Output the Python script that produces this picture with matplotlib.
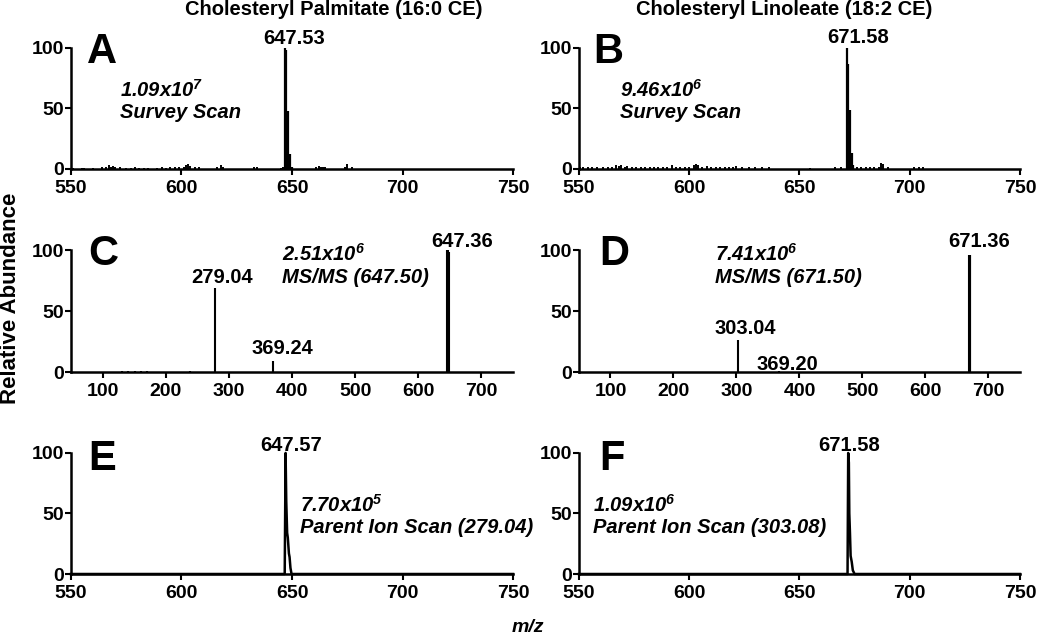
import matplotlib
# file output only
matplotlib.use("Agg")
import matplotlib.pyplot as plt

plt.rcParams["font.family"] = ["Liberation Sans", "DejaVu Sans"]
plt.rcParams["font.weight"] = "bold"
plt.rcParams["mathtext.default"] = "regular"

# ---- spectra: m/z and relative abundance (%) ----
# A: survey scan, cholesteryl palmitate
a_peak_mz = [646.9, 647.4, 648.1, 649.1, 650.0]
a_peak_int = [100, 98, 48, 12, 2]
a_noise_mz = [551, 555, 556, 560, 564, 566, 567, 568, 569, 570, 572, 575, 577, 579, 581,
              583, 585, 589, 591, 593, 595, 597, 599, 601, 602, 603, 604, 606, 608, 616,
              618, 619, 633, 634, 645, 646, 661, 662, 663, 664, 665, 674, 675, 677]
a_noise_int = [1, 1, 1, 1, 1.5, 2, 3, 2, 2.5, 2, 1.5, 1, 1, 1.5, 1,
               1, 1, 1, 1.5, 1, 1.5, 1.5, 2, 1.5, 3, 4, 2.5, 2, 1.5, 2,
               3.5, 2, 1.5, 1.5, 1, 2, 2, 2.5, 2, 2, 1.5, 1.5, 4, 1.5]

# B: survey scan, cholesteryl linoleate
b_peak_mz = [671.6, 672.1, 672.9, 673.7, 674.5]
b_peak_int = [100, 87, 49, 13, 3]
b_noise_mz = [550.5, 552, 554, 556, 558, 561, 563, 565, 567, 568, 569, 571, 572, 574, 576,
              578, 580, 582, 584, 586, 588, 590, 592, 594, 596, 598, 600, 602, 603, 604,
              606, 608, 610, 612, 614, 616, 618, 620, 621, 624, 627, 630, 633, 636, 655,
              666, 669, 676, 678, 680, 682, 684, 686, 687, 688, 690, 702, 704, 706]
b_noise_int = [2, 2, 1.5, 2, 1.5, 1.5, 2, 2, 3, 2.5, 3, 2, 2.5, 2, 1.5,
               2, 1.5, 2, 1.5, 1.5, 2, 1.5, 3, 2, 1.5, 1.5, 2, 3, 4, 3,
               2, 2.5, 1.5, 2, 1.5, 1.5, 1.5, 2, 2.5, 1.5, 1.5, 1.5, 1.5, 1.5, 1,
               1.5, 2, 2, 1.5, 1.5, 1.5, 1.5, 2, 5, 4, 2, 1.5, 1.5, 1.5]

# C / D: product ion (MS/MS) spectra
c_mz = [131, 141, 151, 161, 171, 239, 278.6, 370, 646.0, 647.4, 648.8]
c_int = [1, 1, 1, 1, 1, 1, 69, 9, 100, 100, 98]
d_mz = [301.7, 367.7, 669.5, 670.2, 670.9]
d_int = [26, 1, 96, 96, 96]

# E / F: parent ion scans (profile traces)
e_mz = [550, 646.7, 647.1, 647.4, 647.8, 648.1, 648.6, 648.9, 649.3, 649.8, 750]
e_int = [0, 0, 100, 60, 34, 30, 17, 14, 5, 0, 0]
f_mz = [550, 671.8, 672.1, 672.4, 672.6, 672.9, 673.2, 673.7, 674.2, 675.0, 750]
f_int = [0, 0, 100, 92, 50, 34, 15, 10, 3, 0, 0]

# peak labels: text, m/z and height of the labelled line
a_labels = [("647.53", 646.9, 100)]
b_labels = [("671.58", 671.6, 100)]
c_labels = [("647.36", 647.4, 100), ("279.04", 278.6, 69), ("369.24", 370, 9)]
d_labels = [("671.36", 670.2, 96), ("303.04", 301.7, 26), ("369.20", 367.7, 1)]
e_labels = [("647.57", 647.1, 100)]
f_labels = [("671.58", 672.1, 100)]

# intensity / scan-type notes
a_note = ("1.09x10$^{7}$", "Survey Scan")
b_note = ("9.46x10$^{6}$", "Survey Scan")
c_note = ("2.51x10$^{6}$", "MS/MS (647.50)")
d_note = ("7.41x10$^{6}$", "MS/MS (671.50)")
e_note = ("7.70x10$^{5}$", "Parent Ion Scan (279.04)")
f_note = ("1.09x10$^{6}$", "Parent Ion Scan (303.08)")

survey_ticks = [550, 600, 650, 700, 750]
msms_ticks = [100, 200, 300, 400, 500, 600, 700]


def style_axis(ax, xlim, xticks):
    ax.set_xlim(*xlim)
    ax.set_ylim(0, 100)
    ax.set_xticks(xticks)
    ax.set_yticks([0, 50, 100])
    for side in ("top", "right"):
        ax.spines[side].set_visible(False)
    for side in ("left", "bottom"):
        ax.spines[side].set_linewidth(1.8)
    ax.tick_params(axis="both", direction="out", length=4, width=1.5, labelsize=14)
    ax.tick_params(axis="x", pad=4)
    ax.tick_params(axis="y", pad=1)


def add_labels(ax, labels, offsets):
    for (text, mz, height), (dx, dy) in zip(labels, offsets):
        ax.annotate(text, xy=(mz, height), xytext=(dx, dy), textcoords="offset pixels",
                    ha="center", va="baseline", fontsize=14.5, annotation_clip=False)


def add_note(ax, note, x, y1, y2):
    ax.text(x, y1, note[0], transform=ax.transAxes, fontsize=14.5, style="italic", va="baseline")
    ax.text(x, y2, note[1], transform=ax.transAxes, fontsize=14.5, style="italic", va="baseline")


def add_letter(ax, letter, x, y):
    ax.text(x, y, letter, transform=ax.transAxes, fontsize=30, va="baseline")


fig = plt.figure(figsize=(10.5, 6.37), dpi=100)
left_x, right_x, width = 0.0676, 0.5514, 0.421
ax_a = fig.add_axes([left_x, 0.7347, width, 0.19])
ax_b = fig.add_axes([right_x, 0.7347, 0.42, 0.19])
ax_c = fig.add_axes([left_x, 0.416, width, 0.1915])
ax_d = fig.add_axes([right_x, 0.416, 0.42, 0.1915])
ax_e = fig.add_axes([left_x, 0.0989, width, 0.19])
ax_f = fig.add_axes([right_x, 0.0989, 0.42, 0.19])

# survey scans
for ax, pmz, pint, nmz, nint in [(ax_a, a_peak_mz, a_peak_int, a_noise_mz, a_noise_int),
                                  (ax_b, b_peak_mz, b_peak_int, b_noise_mz, b_noise_int)]:
    ax.vlines(nmz, 0, nint, colors="black", linewidth=1.4)
    ax.vlines(pmz, 0, pint, colors="black", linewidth=1.6, clip_on=False)
    style_axis(ax, (550, 750), survey_ticks)

# MS/MS
for ax, mz, inten in [(ax_c, c_mz, c_int), (ax_d, d_mz, d_int)]:
    ax.vlines(mz, 0, inten, colors="black", linewidth=1.5, clip_on=False)
    style_axis(ax, (50, 750), msms_ticks)

# parent ion scans
for ax, mz, inten in [(ax_e, e_mz, e_int), (ax_f, f_mz, f_int)]:
    ax.plot(mz, inten, color="black", linewidth=1.8, clip_on=False)
    style_axis(ax, (550, 750), survey_ticks)

add_labels(ax_a, a_labels, [(9, 4)])
add_labels(ax_b, b_labels, [(11, 5)])
add_labels(ax_c, c_labels, [(14, 3), (7, 5), (9, 7)])
add_labels(ax_d, d_labels, [(9, 8), (8, 6), (8, 1)])
add_labels(ax_e, e_labels, [(6, 2)])
add_labels(ax_f, f_labels, [(1, 2)])

add_note(ax_a, a_note, 0.111, 0.595, 0.42)
add_note(ax_b, b_note, 0.093, 0.595, 0.42)
add_note(ax_c, c_note, 0.477, 0.91, 0.73)
add_note(ax_d, d_note, 0.308, 0.91, 0.73)
add_note(ax_e, e_note, 0.518, 0.512, 0.34)
add_note(ax_f, f_note, 0.032, 0.512, 0.34)

for ax, letter, x, y in [(ax_a, "A", 0.036, 0.876), (ax_b, "B", 0.032, 0.876),
                         (ax_c, "C", 0.038, 0.877), (ax_d, "D", 0.045, 0.877),
                         (ax_e, "E", 0.038, 0.86), (ax_f, "F", 0.045, 0.86)]:
    add_letter(ax, letter, x, y)

fig.text(334 / 1050, 1 - 15 / 637, "Cholesteryl Palmitate (16:0 CE)", ha="center", va="baseline", fontsize=14.5)
fig.text(784 / 1050, 1 - 15 / 637, "Cholesteryl Linoleate (18:2 CE)", ha="center", va="baseline", fontsize=14.5)
fig.text(11 / 1050, 1 - 298 / 637, "Relative Abundance", rotation=90, ha="center", va="center", fontsize=16)
fig.text(528 / 1050, 1 - 628 / 637, "m/z", ha="center", va="center", fontsize=14, style="italic")

fig.savefig("out.png", dpi=100)
plt.close(fig)
